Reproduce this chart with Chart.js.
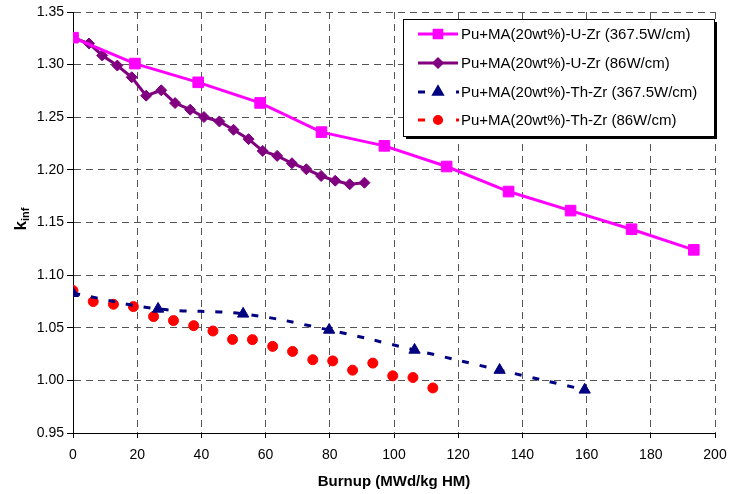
<!DOCTYPE html>
<html>
<head>
<meta charset="utf-8">
<script src="https://cdn.jsdelivr.net/npm/chart.js@4/dist/chart.umd.min.js"></script>
<style>
  html, body { margin: 0; padding: 0; background: #fff; }
  #wrap { width: 732px; height: 494px; }
</style>
</head>
<body>
<div id="wrap"><canvas id="chart" width="732" height="494"></canvas></div>
<script>
// Pu+MA(20wt%)-U-Zr (367.5W/cm)
const burnupUZr367 = [0, 19.3, 39, 58.3, 77.4, 97, 116.4, 135.7, 155, 174, 193.4];
const kinfUZr367 = [1.3256, 1.301, 1.2832, 1.2636, 1.2359, 1.2228, 1.2032, 1.1794, 1.1613, 1.1436, 1.124];

// Pu+MA(20wt%)-U-Zr (86W/cm)
const burnupUZr86 = [0, 5.0, 9.1, 13.8, 18.3, 22.8, 27.5, 31.8, 36.5, 40.8, 45.6, 50.0, 54.7, 59.1, 63.6, 68.2, 72.7, 77.3, 81.7, 86.2, 90.8];
const kinfUZr86 = [1.3256, 1.3201, 1.3087, 1.2991, 1.288, 1.2705, 1.2756, 1.2635, 1.2572, 1.2502, 1.246, 1.2381, 1.2292, 1.218, 1.2133, 1.2063, 1.2006, 1.1942, 1.1897, 1.1863, 1.1878];

// Pu+MA(20wt%)-Th-Zr (367.5W/cm)
const burnupThZr367 = [0, 26.5, 53, 79.8, 106.4, 132.9, 159.4];
const kinfThZr367 = [1.0828, 1.0679, 1.0632, 1.0479, 1.0289, 1.0098, 0.991];

// Pu+MA(20wt%)-Th-Zr (86W/cm)
const burnupThZr86 = [0, 6.3, 12.6, 18.8, 25.1, 31.3, 37.6, 43.6, 49.7, 55.9, 62.2, 68.4, 74.7, 80.9, 87.1, 93.4, 99.6, 105.9, 112.1];
const kinfThZr86 = [1.0854, 1.0749, 1.0723, 1.0701, 1.0606, 1.0568, 1.052, 1.0469, 1.0389, 1.0387, 1.0323, 1.0275, 1.0196, 1.0185, 1.0097, 1.0164, 1.0043, 1.0027, 0.9928];

const seriesLabels = [
  'Pu+MA(20wt%)-U-Zr (367.5W/cm)',
  'Pu+MA(20wt%)-U-Zr (86W/cm)',
  'Pu+MA(20wt%)-Th-Zr (367.5W/cm)',
  'Pu+MA(20wt%)-Th-Zr (86W/cm)'
];

const xTicks = [0, 20, 40, 60, 80, 100, 120, 140, 160, 180, 200];
const yTicks = [0.95, 1.00, 1.05, 1.10, 1.15, 1.20, 1.25, 1.30, 1.35];

const FONT = '"Liberation Sans", Arial, sans-serif';

function pts(xs, ys) {
  return xs.map((x, i) => ({ x: x, y: ys[i] }));
}

// legend box with drop shadow, drawn on top of the plot
const boxLegend = {
  id: 'boxLegend',
  afterDraw(chart) {
    const ctx = chart.ctx;
    const bx = 403, by = 19, bw = 311, bh = 117;
    ctx.save();
    ctx.fillStyle = '#000';
    ctx.fillRect(bx + 3, by + 3, bw, bh);
    ctx.fillStyle = '#fff';
    ctx.fillRect(bx, by, bw, bh);
    ctx.strokeStyle = '#000';
    ctx.lineWidth = 1;
    ctx.strokeRect(bx + 0.5, by + 0.5, bw, bh);

    const rows = [34, 63, 92, 120];
    chart.data.datasets.forEach((ds, i) => {
      const y = rows[i];
      ctx.strokeStyle = ds.borderColor;
      ctx.lineWidth = 3;
      ctx.setLineDash([]);
      if (ds.legendKind === 'solid') {
        ctx.beginPath();
        ctx.moveTo(418, y); ctx.lineTo(458, y);
        ctx.stroke();
      } else {
        ctx.fillStyle = ds.pointBackgroundColor;
        ctx.fillRect(418, y - 1.5, 7, 3);
        ctx.fillRect(456, y - 1.5, 3, 3);
      }
      Chart.helpers.drawPoint(ctx, {
        pointStyle: ds.pointStyle,
        radius: ds.pointRadius * 0.72,
        borderWidth: 1,
        rotation: 0
      }, 438, y);
      ctx.fillStyle = ds.pointBackgroundColor;
      ctx.strokeStyle = ds.pointBorderColor;
      ctx.lineWidth = 1;
      ctx.fill();
      ctx.stroke();

      ctx.fillStyle = '#000';
      ctx.font = '15px ' + FONT;
      ctx.textBaseline = 'middle';
      ctx.textAlign = 'left';
      ctx.fillText(ds.label, 461, y + 1);
    });

    // y axis title k_inf
    ctx.translate(20, 219);
    ctx.rotate(-Math.PI / 2);
    ctx.fillStyle = '#000';
    ctx.textBaseline = 'alphabetic';
    ctx.font = 'bold 17px ' + FONT;
    const kw = ctx.measureText('k').width;
    ctx.font = 'bold 11px ' + FONT;
    const iw = ctx.measureText('inf').width;
    const start = -(kw + iw) / 2;
    ctx.font = 'bold 17px ' + FONT;
    ctx.fillText('k', start, 6);
    ctx.font = 'bold 11px ' + FONT;
    ctx.fillText('inf', start + kw, 9);
    ctx.restore();
  }
};

new Chart(document.getElementById('chart').getContext('2d'), {
  type: 'scatter',
  data: {
    datasets: [
      {
        label: seriesLabels[0],
        data: pts(burnupUZr367, kinfUZr367),
        showLine: true,
        borderColor: '#ff00ff',
        borderWidth: 3,
        pointStyle: 'rect',
        pointRadius: 7.5,
        pointBackgroundColor: '#ff00ff',
        pointBorderColor: '#ff00ff',
        pointBorderWidth: 1,
        legendKind: 'solid'
      },
      {
        label: seriesLabels[1],
        data: pts(burnupUZr86, kinfUZr86),
        showLine: true,
        borderColor: '#800080',
        borderWidth: 3,
        pointStyle: 'rectRot',
        pointRadius: 5.5,
        pointBackgroundColor: '#800080',
        pointBorderColor: '#800080',
        pointBorderWidth: 1,
        legendKind: 'solid'
      },
      {
        label: seriesLabels[2],
        data: pts(burnupThZr367, kinfThZr367),
        showLine: true,
        tension: 0.4,
        borderColor: '#000080',
        borderWidth: 3,
        borderDash: [7, 11],
        pointStyle: 'triangle',
        pointRadius: 6.5,
        pointBackgroundColor: '#000080',
        pointBorderColor: '#000080',
        pointBorderWidth: 1,
        legendKind: 'dashed'
      },
      {
        label: seriesLabels[3],
        data: pts(burnupThZr86, kinfThZr86),
        showLine: false,
        borderColor: '#ff0000',
        pointStyle: 'circle',
        pointRadius: 5,
        pointBackgroundColor: '#ff0000',
        pointBorderColor: '#ff0000',
        pointBorderWidth: 1,
        legendKind: 'dashed'
      }
    ]
  },
  options: {
    responsive: false,
    animation: false,
    layout: { padding: { left: 0, right: 17, top: 12, bottom: 0 } },
    plugins: {
      legend: { display: false },
      tooltip: { enabled: false }
    },
    scales: {
      x: {
        type: 'linear',
        min: 0,
        max: 200,
        afterBuildTicks: (s) => { s.ticks = xTicks.map(v => ({ value: v })); },
        afterFit: (s) => { s.height = 61; s.paddingRight = 0; s.paddingLeft = 0; },
        ticks: {
          color: '#000',
          font: { family: FONT, size: 14 },
          padding: 9,
          maxRotation: 0
        },
        grid: { color: '#555', lineWidth: 1, tickLength: 5, tickColor: '#000' },
        border: { color: '#000', width: 1, dash: [7, 5] },
        title: {
          display: true,
          text: 'Burnup (MWd/kg HM)',
          color: '#000',
          font: { family: FONT, size: 15, weight: 'bold' },
          padding: { top: 6, bottom: 3 }
        }
      },
      y: {
        min: 0.95,
        max: 1.35,
        afterBuildTicks: (s) => { s.ticks = yTicks.map(v => ({ value: v })); },
        afterFit: (s) => { s.width = 73; s.paddingTop = 0; s.paddingBottom = 0; },
        ticks: {
          color: '#000',
          font: { family: FONT, size: 14 },
          padding: 3,
          callback: (v) => v.toFixed(2)
        },
        grid: { color: '#555', lineWidth: 1, tickLength: 6, tickColor: '#000' },
        border: { color: '#000', width: 1, dash: [7, 5] }
      }
    }
  },
  plugins: [boxLegend]
});
</script>
</body>
</html>
